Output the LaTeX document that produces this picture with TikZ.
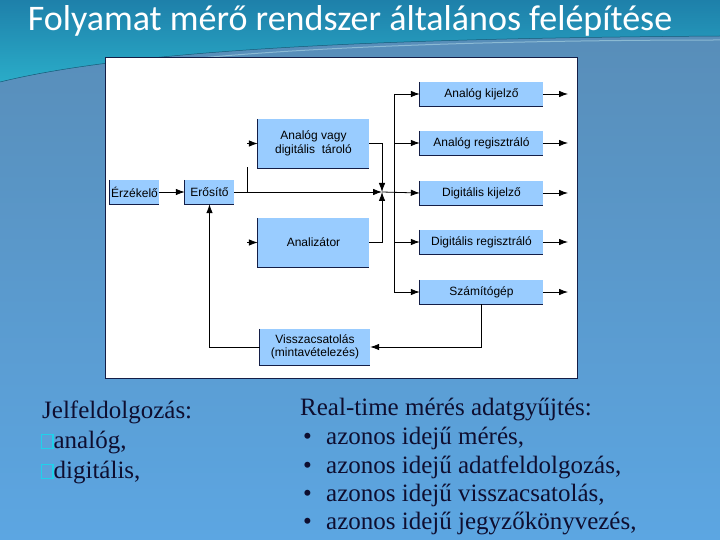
\documentclass[tikz,border=0pt]{standalone}
\usepackage{fontspec}
\usetikzlibrary{arrows.meta}
\newfontfamily\titlefont{Carlito}
\newfontfamily\boxfont{Liberation Sans}
\newfontfamily\listfont{Liberation Serif}
\definecolor{boxblue}{RGB}{153,204,255}
\definecolor{boxedge}{RGB}{20,30,70}
\definecolor{steel}{RGB}{88,140,182}
\definecolor{skyblue}{RGB}{92,166,226}
\definecolor{tealtop}{RGB}{30,128,170}
\definecolor{tealmid}{RGB}{42,172,200}
\definecolor{navytext}{RGB}{14,14,48}
\definecolor{glyphcyan}{RGB}{30,210,235}
\newcommand{\missingglyph}{{\color{glyphcyan}\setlength{\fboxsep}{0pt}\setlength{\fboxrule}{1.2pt}\fbox{\rule{0pt}{13pt}\hspace{10pt}}}}
\begin{document}
\begin{tikzpicture}[x=1pt, y=-1pt,
  blk/.style={fill=boxblue, inner sep=0pt, align=center, font=\boxfont\fontsize{12}{13.5}\selectfont},
  arr/.style={-{Latex[length=9pt,width=6.5pt]}, line width=0.8pt},
  ln/.style={line width=0.8pt}]
  % background
  \useasboundingbox (0,0) rectangle (720,540);
  \shade[top color=steel, bottom color=skyblue] (0,0) rectangle (720,540);
  \shade[top color=tealtop, bottom color=tealmid]
    (0,0) -- (0,82) .. controls (150,45) and (450,38) .. (720,36) -- (720,0) -- cycle;
  \draw[tealtop!70!black, line width=0.5pt] (0,82) .. controls (150,45) and (450,38) .. (720,36);
  \draw[white!70!tealmid, opacity=0.5, line width=1pt] (200,58) .. controls (350,44) and (560,40) .. (720,40);
  \node[text=white, font=\titlefont\fontsize{36}{39}\selectfont, anchor=base] (title) at (350,31)
    {Folyamat mérő rendszer általános felépítése};
  % diagram panel
  \node[draw=boxedge, fill=white, line width=0.8pt, minimum width=472pt, minimum height=321pt, inner sep=0pt] (panel) at (341,217.5) {};
  % blocks
  \node[blk, minimum width=49pt, minimum height=24pt] (erzekelo) at (134.5,192) {Érzékelő};
  \node[blk, minimum width=49pt, minimum height=24pt] (erosito) at (209.5,192) {Erősítő};
  \node[blk, minimum width=111pt, minimum height=49pt] (tarolo) at (313.5,143.5) {Analóg vagy\\digitális\ \ tároló};
  \node[blk, minimum width=111pt, minimum height=49pt] (analizator) at (313.5,242.5) {Analizátor};
  \node[blk, minimum width=110pt, minimum height=36pt] (vissza) at (315,347) {Visszacsatolás\\(mintavételezés)};
  \node[blk, minimum width=123pt, minimum height=24pt] (ankij) at (481.5,94) {Analóg kijelző};
  \node[blk, minimum width=123pt, minimum height=24pt] (anreg) at (481.5,143) {Analóg regisztráló};
  \node[blk, minimum width=123pt, minimum height=24pt] (digkij) at (481.5,193) {Digitális kijelző};
  \node[blk, minimum width=123pt, minimum height=24pt] (digreg) at (481.5,242) {Digitális regisztráló};
  \node[blk, minimum width=123pt, minimum height=24pt] (szamito) at (481.5,292) {Számítógép};
  \foreach \b in {erzekelo,erosito,tarolo,analizator,vissza,ankij,anreg,digkij,digreg,szamito}
    \draw[boxedge, line width=0.8pt] (\b.north west) -- (\b.south west) -- (\b.south east);
  % helper points
  \coordinate (jn) at (382,192);
  \coordinate (bus) at (394,192);
  \coordinate (stub) at (247,192);
  \coordinate (brtop) at (247,167);
  \coordinate (outx) at (568,192);
  % connectors
  \draw[arr] (erzekelo) -- (erosito);
  \draw[arr] (erosito.east) -- (jn);
  \draw[arr] (jn) -- (digkij.west);
  \draw[ln] (stub) -- (brtop);
  \draw[arr] (tarolo.west -| stub) -- (tarolo.west);
  \draw[arr] (analizator.west -| stub) -- (analizator.west);
  \draw[arr] (tarolo.east) -| (jn);
  \draw[arr] (analizator.east) -| (jn);
  \draw[ln] (ankij.west -| bus) -- (szamito.west -| bus);
  \foreach \b in {ankij,anreg,digreg,szamito}
    \draw[arr] (\b.west -| bus) -- (\b.west);
  \foreach \b in {ankij,anreg,digkij,digreg,szamito}
    \draw[arr] (\b.east) -- (\b.east -| outx);
  \draw[arr] (szamito.south) |- (vissza.east);
  \draw[arr] (vissza.west) -| (erosito.south);
  % text below
  \begin{scope}[every node/.style={anchor=base west, inner sep=0pt, text=navytext, font=\listfont\fontsize{25}{28}\selectfont}]
    \node (jel) at (42,418) {Jelfeldolgozás:};
    \node (analog) at (41,448) {\missingglyph analóg,};
    \node (digit) at (41,478) {\missingglyph digitális,};
    \node (rt) at (300,415) {Real-time mérés adatgyűjtés:};
    \foreach \t/\y [count=\i] in {{azonos idejű mérés,}/444, {azonos idejű adatfeldolgozás,}/473,
        {azonos idejű visszacsatolás,}/501, {azonos idejű jegyzőkönyvezés,}/529}{
      \node (bul\i) at (303,\y) {•};
      \node (item\i) at (326,\y) {\t};
    }
  \end{scope}
\end{tikzpicture}
\end{document}
